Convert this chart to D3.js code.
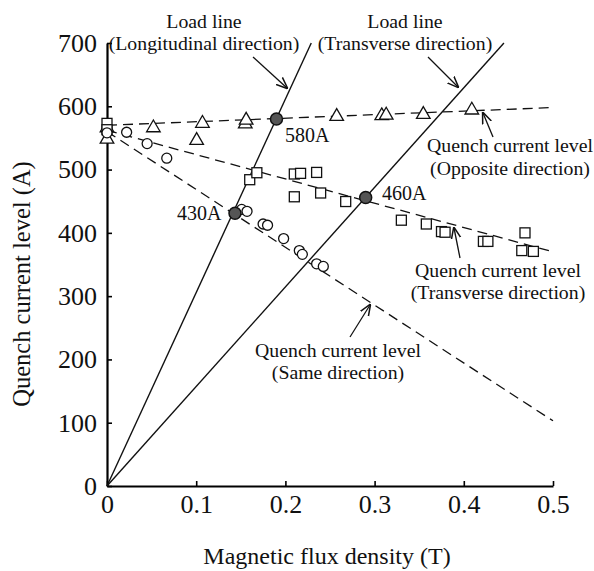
<!DOCTYPE html>
<html>
<head>
<meta charset="utf-8">
<script src="https://cdn.jsdelivr.net/npm/d3@7"></script>
<style>
  body { margin: 0; background: #fff; }
</style>
</head>
<body>
<div id="chart"></div>
<script>
// measured points [B (T), I (A)]
const oppositeDir = [
  [0, 548], [0, 566], [0.052, 566], [0.1005, 546], [0.107, 573],
  [0.155, 572], [0.156, 578], [0.2575, 584], [0.308, 585], [0.313, 586],
  [0.3546, 587], [0.409, 594]
];
const sameDir = [
  [0, 558], [0.022, 559], [0.045, 541], [0.067, 518], [0.151, 437],
  [0.157, 434], [0.175, 414], [0.18, 412], [0.198, 391], [0.2156, 372],
  [0.219, 366], [0.235, 351], [0.2425, 347]
];
const transverseDir = [
  [0, 573], [0, 563], [0.16, 484], [0.168, 495], [0.21, 493], [0.217, 494],
  [0.235, 495.5], [0.21, 457], [0.2395, 463], [0.2676, 449.5], [0.330, 420],
  [0.358, 414], [0.375, 402], [0.379, 401], [0.422, 386.5], [0.427, 386.5],
  [0.4686, 400], [0.465, 372], [0.478, 370.7]
];

// load lines and fitted quench levels
const loadLongitudinal = [[0, 0], [0.229, 700]];
const loadTransverse = [[0, 0], [0.445, 700]];
const fitOpposite = [[0, 570], [0.5, 598]];
const fitTransverse = [[0, 562], [0.5, 370]];
const fitSame = [[0, 560], [0.5, 103]];

const crossings = [[0.19, 580], [0.29, 456], [0.1435, 431]];
const crossingLabels = ["580A", "460A", "430A"];

const xTicks = [0, 0.1, 0.2, 0.3, 0.4, 0.5];
const yTicks = [0, 100, 200, 300, 400, 500, 600, 700];

const FONT = "'Liberation Serif', 'Times New Roman', Tinos";
const width = 594, height = 571;
const x = d3.scaleLinear().domain([0, 0.5]).range([107, 553]);
const y = d3.scaleLinear().domain([0, 700]).range([486, 43]);

const svg = d3.select("#chart").append("svg")
  .attr("width", width).attr("height", height);

svg.append("defs").append("marker")
  .attr("id", "arr").attr("viewBox", "0 0 10 10")
  .attr("refX", 9).attr("refY", 5)
  .attr("markerWidth", 9).attr("markerHeight", 9)
  .attr("orient", "auto")
  .append("path").attr("d", "M0,1 L10,5 L0,9").attr("fill", "none")
  .attr("stroke", "#111").attr("stroke-width", 1.3);

const line = d3.line().x(d => x(d[0])).y(d => y(d[1]));

// axes, ticks pointing inward
const xAxis = svg.append("g").attr("transform", `translate(0,${y(0)})`)
  .call(d3.axisBottom(x).tickValues(xTicks).tickSizeInner(-5).tickSizeOuter(0)
    .tickFormat(d => d === 0 ? "0" : d3.format(".1f")(d)));
xAxis.select(".domain").attr("stroke-width", 2.2);
xAxis.selectAll("line").attr("stroke-width", 1.6);
xAxis.selectAll("text").attr("font-size", 26).attr("y", 9).attr("dy", "0.71em");

const yAxis = svg.append("g").attr("transform", `translate(${x(0)},0)`)
  .call(d3.axisLeft(y).tickValues(yTicks).tickSizeInner(-5).tickSizeOuter(0));
yAxis.select(".domain").attr("stroke-width", 2.2);
yAxis.selectAll("line").attr("stroke-width", 1.6);
yAxis.selectAll("text").attr("font-size", 26).attr("x", -10);

// axis titles
svg.append("text").attr("x", 327).attr("y", 564).attr("text-anchor", "middle")
  .attr("font-size", 24).text("Magnetic flux density (T)");
svg.append("text").attr("transform", "translate(30,284) rotate(-90)")
  .attr("text-anchor", "middle").attr("font-size", 24.5).text("Quench current level (A)");

// lines
[loadLongitudinal, loadTransverse].forEach(d =>
  svg.append("path").attr("d", line(d)).attr("fill", "none")
    .attr("stroke", "#111").attr("stroke-width", 1.4));
[fitOpposite, fitTransverse, fitSame].forEach(d =>
  svg.append("path").attr("d", line(d)).attr("fill", "none")
    .attr("stroke", "#111").attr("stroke-width", 1.3).attr("stroke-dasharray", "10,6"));

// markers
svg.append("g").selectAll("path").data(oppositeDir).join("path")
  .attr("transform", d => `translate(${x(d[0])},${y(d[1])})`)
  .attr("d", d3.symbol(d3.symbolTriangle, 80))
  .attr("fill", "white").attr("stroke", "#111").attr("stroke-width", 1.3);
svg.append("g").selectAll("rect").data(transverseDir).join("rect")
  .attr("x", d => x(d[0]) - 5).attr("y", d => y(d[1]) - 5)
  .attr("width", 10).attr("height", 10)
  .attr("fill", "white").attr("stroke", "#111").attr("stroke-width", 1.3);
svg.append("g").selectAll("circle").data(sameDir).join("circle")
  .attr("cx", d => x(d[0])).attr("cy", d => y(d[1])).attr("r", 5)
  .attr("fill", "white").attr("stroke", "#111").attr("stroke-width", 1.3);

svg.append("g").selectAll("circle").data(crossings).join("circle")
  .attr("cx", d => x(d[0])).attr("cy", d => y(d[1])).attr("r", 6)
  .attr("fill", "#555").attr("stroke", "#111").attr("stroke-width", 1.5);

const labelPos = [[285, 142], [382, 200], [177, 220]];
svg.append("g").selectAll("text").data(crossingLabels).join("text")
  .attr("x", (d, i) => labelPos[i][0]).attr("y", (d, i) => labelPos[i][1])
  .attr("font-size", 20).text(d => d);

// annotations
function note(lines, cx, y0, gap) {
  lines.forEach((t, i) => svg.append("text").attr("x", cx).attr("y", y0 + i * gap)
    .attr("text-anchor", "middle").attr("font-size", 19.8).text(t));
}
note(["Load line", "(Longitudinal direction)"], 204, 28, 22);
note(["Load line", "(Transverse direction)"], 405, 28, 22);
note(["Quench current level", "(Opposite direction)"], 510, 152, 23);
note(["Quench current level", "(Transverse direction)"], 498, 277, 22);
note(["Quench current level", "(Same direction)"], 338, 357, 22);

const arrows = [
  [253, 57, 287, 88], [428, 57, 458, 87], [493, 137, 483, 113],
  [460, 258, 454, 228], [350, 337, 370, 305]
];
arrows.forEach(a => svg.append("line")
  .attr("x1", a[0]).attr("y1", a[1]).attr("x2", a[2]).attr("y2", a[3])
  .attr("stroke", "#111").attr("stroke-width", 1.3).attr("marker-end", "url(#arr)"));

svg.selectAll("text").style("font-family", FONT).attr("fill", "#111");
</script>
</body>
</html>
